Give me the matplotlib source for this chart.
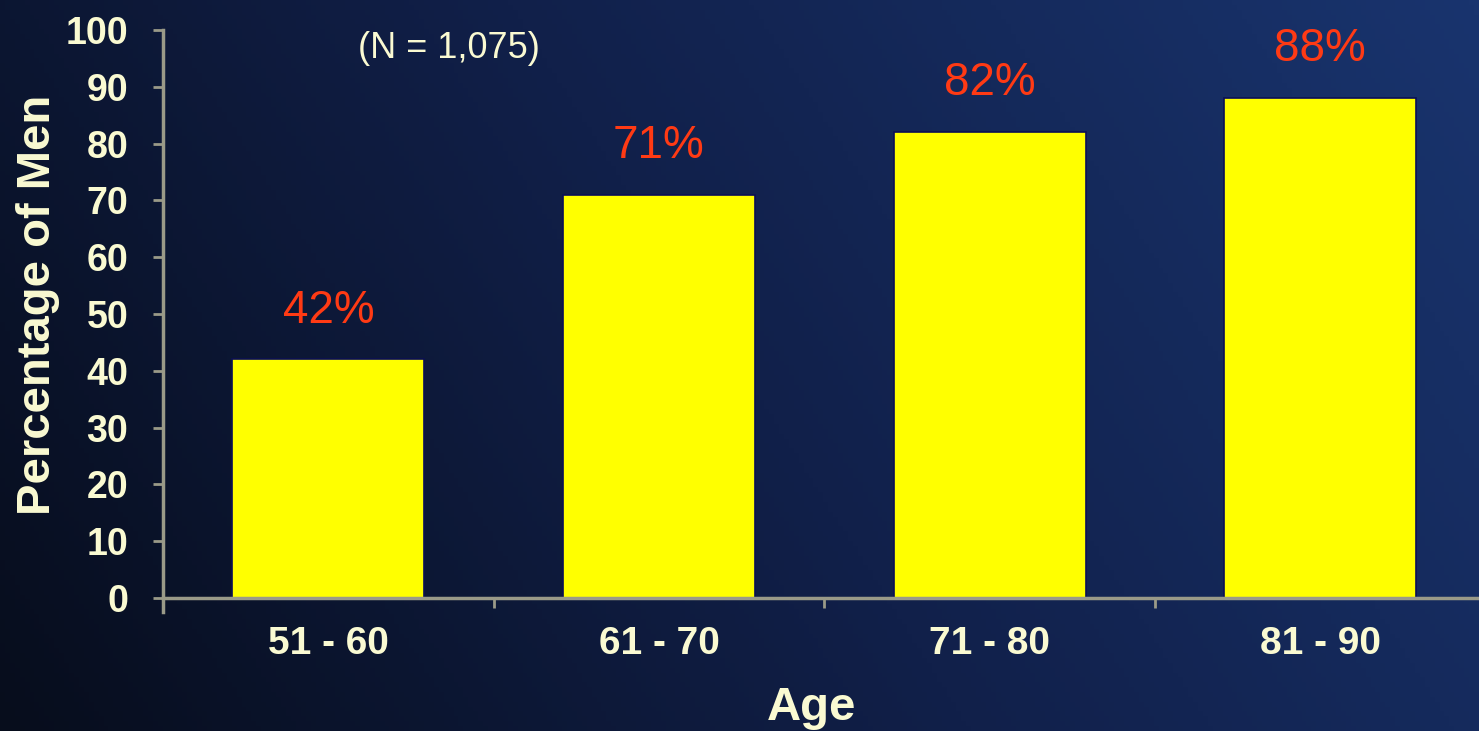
import matplotlib.pyplot as plt
import numpy as np
from matplotlib.colors import LinearSegmentedColormap

plt.rcParams['font.family'] = ['Liberation Sans', 'DejaVu Sans']

age_groups = ["51 - 60", "61 - 70", "71 - 80", "81 - 90"]
pct_men = [42, 71, 82, 88]
y_ticks = [0, 10, 20, 30, 40, 50, 60, 70, 80, 90, 100]

text_col = '#fafad2'
axis_col = '#9a9a88'
value_col = '#ff3a14'

fig = plt.figure(figsize=(14.79, 7.31), dpi=100)

# navy backdrop, darker on the left, lighter towards the bottom right
bg = fig.add_axes([0, 0, 1, 1], zorder=-10)
gx, gy = np.meshgrid(np.linspace(0, 1, 300), np.linspace(1, 0, 150))
grad = 0.8 * gx + 0.25 * gy
cmap = LinearSegmentedColormap.from_list('navy', ['#070d1c', '#11204a', '#19346e'])
bg.imshow(grad, cmap=cmap, aspect='auto', extent=[0, 1, 0, 1], vmin=0, vmax=1.05)
bg.axis('off')

ax = fig.add_axes([163 / 1479, 1 - 598 / 731, 1 - 163 / 1479, 568 / 731])
ax.patch.set_alpha(0)

x = np.arange(len(age_groups))
ax.bar(x, pct_men, width=0.58, color='#ffff00', edgecolor='#0b0f55', linewidth=1.2, zorder=2)

for xi, v in zip(x, pct_men):
    ax.text(xi, v + 8.6, f"{v}%", color=value_col, fontsize=33, ha='center', va='center')

ax.text(0.366, 96.8, "(N = 1,075)", color=text_col, fontsize=26, ha='center', va='center')

ax.set_xlim(-0.5, 3.48)
ax.set_ylim(0, 100)
ax.set_yticks(y_ticks)
ax.set_xticks(x)
ax.set_xticklabels(age_groups)
ax.set_xticks(x[:-1] + 0.5, minor=True)

for s in ['top', 'right']:
    ax.spines[s].set_visible(False)
for s in ['left', 'bottom']:
    ax.spines[s].set_color(axis_col)
    ax.spines[s].set_linewidth(2.5)
ax.spines['left'].set_bounds(-2.5, 100)

ax.tick_params(axis='y', colors=axis_col, labelcolor=text_col, labelsize=27,
               length=7, width=2, direction='out', pad=18)
ax.tick_params(axis='x', which='major', length=0, labelcolor=text_col, labelsize=28, pad=20)
ax.tick_params(axis='x', which='minor', colors=axis_col, length=7, width=2, direction='out')
for lbl in ax.get_xticklabels() + ax.get_yticklabels():
    lbl.set_fontweight('bold')

fig.text(38 / 1479, 1 - 305 / 731, "Percentage of Men", rotation=90, color=text_col,
         fontsize=34, fontweight='bold', ha='center', va='center')
fig.text(812 / 1479, 1 - 708 / 731, "Age", color=text_col,
         fontsize=34, fontweight='bold', ha='center', va='center')

fig.savefig('out.png', dpi=100)
